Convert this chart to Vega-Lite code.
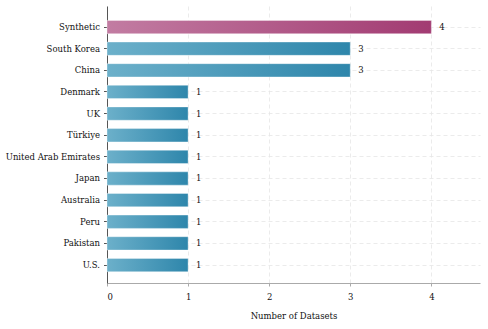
{
  "$schema": "https://vega.github.io/schema/vega-lite/v6.json",
  "width": 373,
  "height": 277,
  "autosize": {"type": "none"},
  "padding": {"left": 107, "top": 6, "right": 8, "bottom": 46},
  "background": "white",
  "config": {
    "view": {"stroke": null},
    "font": "DejaVu Serif",
    "axis": {"labelFont": "DejaVu Serif", "titleFont": "DejaVu Serif", "labelFontSize": 8.5, "titleFontSize": 8.5, "titleFontWeight": "normal", "labelColor": "#111", "titleColor": "#111"}
  },
  "data": {
    "values": [
      {"label": "Synthetic", "count": 4, "group": "synthetic"},
      {"label": "South Korea", "count": 3, "group": "country"},
      {"label": "China", "count": 3, "group": "country"},
      {"label": "Denmark", "count": 1, "group": "country"},
      {"label": "UK", "count": 1, "group": "country"},
      {"label": "Türkiye", "count": 1, "group": "country"},
      {"label": "United Arab Emirates", "count": 1, "group": "country"},
      {"label": "Japan", "count": 1, "group": "country"},
      {"label": "Australia", "count": 1, "group": "country"},
      {"label": "Peru", "count": 1, "group": "country"},
      {"label": "Pakistan", "count": 1, "group": "country"},
      {"label": "U.S.", "count": 1, "group": "country"}
    ]
  },
  "encoding": {
    "y": {
      "field": "label", "type": "nominal", "title": null,
      "sort": ["Synthetic", "South Korea", "China", "Denmark", "UK", "Türkiye", "United Arab Emirates", "Japan", "Australia", "Peru", "Pakistan", "U.S."],
      "scale": {"paddingInner": 0.385, "paddingOuter": 0.594, "align": 0.56},
      "axis": {"domainColor": "#555", "domainWidth": 1, "tickColor": "#555", "tickSize": 3.5, "labelPadding": 4, "grid": true, "gridColor": "#e6e6e6", "gridDash": [4, 3], "gridWidth": 0.8}
    },
    "x": {
      "field": "count", "type": "quantitative", "title": "Number of Datasets",
      "scale": {"domain": [0, 4.6], "nice": false},
      "axis": {"values": [0, 1, 2, 3, 4], "format": "d", "domainColor": "#aaa", "domainWidth": 1.2, "tickColor": "#aaa", "tickSize": 3, "labelPadding": 6, "titlePadding": 11, "grid": true, "gridColor": "#e6e6e6", "gridDash": [4, 3], "gridWidth": 0.8}
    }
  },
  "layer": [
    {
      "transform": [{"filter": "datum.group === 'country'"}],
      "mark": {"type": "bar", "stroke": "white", "strokeOpacity": 0.6, "strokeWidth": 0.6,
        "color": {"gradient": "linear", "x1": 0, "y1": 0, "x2": 1, "y2": 0,
          "stops": [{"offset": 0, "color": "#6cb0ca"}, {"offset": 1, "color": "#2e86ab"}]}}
    },
    {
      "transform": [{"filter": "datum.group === 'synthetic'"}],
      "mark": {"type": "bar", "stroke": "white", "strokeOpacity": 0.6, "strokeWidth": 0.6,
        "color": {"gradient": "linear", "x1": 0, "y1": 0, "x2": 1, "y2": 0,
          "stops": [{"offset": 0, "color": "#c27ca2"}, {"offset": 1, "color": "#a23b72"}]}}
    },
    {
      "mark": {"type": "text", "align": "left", "baseline": "middle", "dx": 8, "fontSize": 8.5, "font": "DejaVu Serif", "color": "#111"},
      "encoding": {"text": {"field": "count", "type": "quantitative"}}
    }
  ]
}
